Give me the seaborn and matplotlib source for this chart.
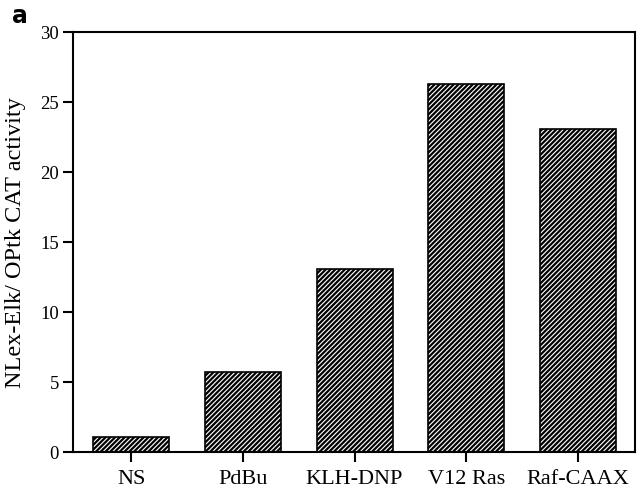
import pandas as pd
import seaborn as sns
import matplotlib.pyplot as plt

conditions = ["NS", "PdBu", "KLH-DNP", "V12 Ras", "Raf-CAAX"]
activity = [1.07, 5.7, 13.1, 26.3, 23.1]
y_ticks = [0, 5, 10, 15, 20, 25, 30]


def main():
    df = pd.DataFrame({"condition": conditions, "activity": activity})

    sns.set_style("ticks")
    plt.rcParams["font.family"] = ["Liberation Serif", "DejaVu Serif"]
    plt.rcParams["hatch.linewidth"] = 1.6
    plt.rcParams["hatch.color"] = "black"
    plt.rcParams["text.color"] = "black"
    plt.rcParams["xtick.color"] = "black"
    plt.rcParams["ytick.color"] = "black"
    plt.rcParams["axes.labelcolor"] = "black"

    fig = plt.figure(figsize=(6.39, 4.89), dpi=100)
    ax = fig.add_axes([73 / 639, 1 - 453 / 489, (635 - 73) / 639, (453 - 33) / 489])

    sns.barplot(data=df, x="condition", y="activity", color="white",
                width=0.68, edgecolor="black", linewidth=1.2, ax=ax)
    for bar in ax.patches:
        bar.set_hatch("///////")

    ax.set_ylim(0, 30)
    ax.set_xlim(-0.52, 4.51)
    ax.set_yticks(y_ticks)
    ax.set_xlabel("")
    ax.set_ylabel("NLex-Elk/ OPtk CAT activity", fontsize=17.5, labelpad=10)
    ax.tick_params(axis="x", labelsize=16, length=7, width=1.5, direction="out", pad=5)
    ax.tick_params(axis="y", labelsize=13.5, length=7, width=1.5, direction="out", pad=3)
    for side in ["left", "right", "top", "bottom"]:
        ax.spines[side].set_linewidth(1.5)
        ax.spines[side].set_color("black")

    fig.text(12 / 639, 1 - 16 / 489, "a", fontsize=17, fontweight="bold",
             family="DejaVu Sans", color="black", va="center", ha="left")

    fig.savefig("out.png", dpi=100)


if __name__ == "__main__":
    main()
